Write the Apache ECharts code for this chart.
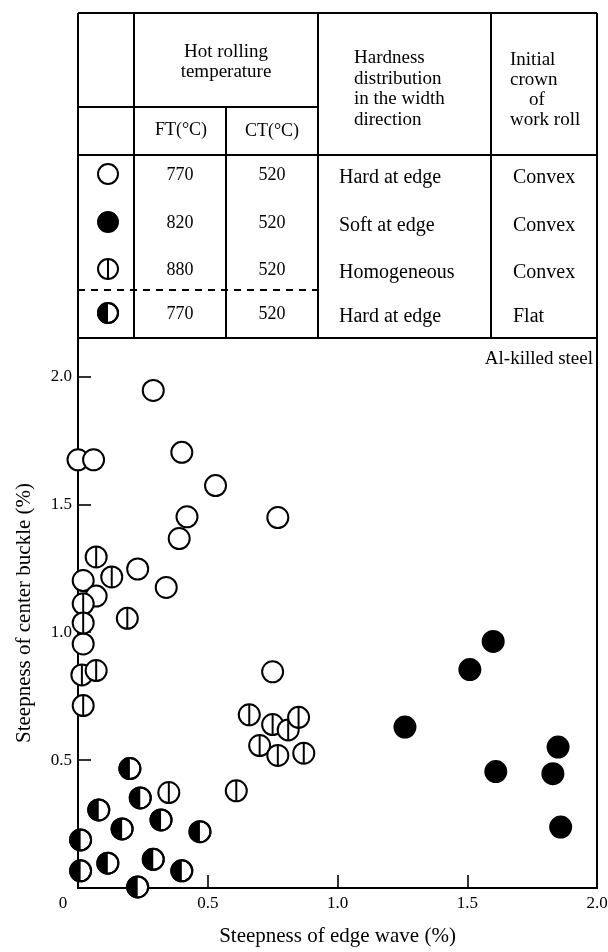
<!DOCTYPE html>
<html><head><meta charset="utf-8">
<script src="https://cdn.jsdelivr.net/npm/echarts@6/dist/echarts.min.js"></script>
<style>html,body{margin:0;padding:0;background:#fff}#c{width:608px;height:952px}</style>
</head><body><div id="c"></div>
<script>
// ---- data (steepness of edge wave %, steepness of center buckle %) ----
// FT 770 / CT 520, hard at edge, convex roll (open circle)
const hardEdgeConvex = [
  [0.29, 1.945], [0.00, 1.674], [0.06, 1.674], [0.40, 1.703], [0.53, 1.573],
  [0.42, 1.451], [0.77, 1.448], [0.39, 1.366], [0.02, 1.202], [0.23, 1.247],
  [0.34, 1.175], [0.07, 1.141], [0.02, 0.954], [0.75, 0.845]
];
// FT 820 / CT 520, soft at edge, convex roll (filled circle)
const softEdgeConvex = [
  [1.60, 0.964], [1.51, 0.854], [1.26, 0.629], [1.85, 0.551],
  [1.61, 0.455], [1.83, 0.447], [1.86, 0.238]
];
// FT 880 / CT 520, homogeneous, convex roll (circle with vertical bar)
const homogeneousConvex = [
  [0.07, 1.294], [0.13, 1.216], [0.02, 1.111], [0.02, 1.036], [0.19, 1.054],
  [0.015, 0.833], [0.07, 0.850], [0.02, 0.713], [0.66, 0.677], [0.75, 0.639],
  [0.81, 0.618], [0.85, 0.667], [0.70, 0.557], [0.77, 0.518], [0.87, 0.527],
  [0.61, 0.380], [0.35, 0.373]
];
// FT 770 / CT 520, hard at edge, flat roll (left half filled)
const hardEdgeFlat = [
  [0.20, 0.467], [0.24, 0.352], [0.08, 0.305], [0.17, 0.231], [0.32, 0.266],
  [0.47, 0.220], [0.01, 0.188], [0.01, 0.067], [0.115, 0.097], [0.29, 0.112],
  [0.40, 0.067], [0.23, 0.004]
];
const xTickValues = [0.5, 1.0, 1.5];
const xTickLabels = [0, 0.5, 1.0, 1.5, 2.0];
const yTickValues = [0.5, 1.0, 1.5, 2.0];
const yTickLabels = [0.5, 1.0, 1.5, 2.0];

// table contents
const ftValues = ['770', '820', '880', '770'];
const ctValues = ['520', '520', '520', '520'];
const hardnessValues = ['Hard at edge', 'Soft at edge', 'Homogeneous', 'Hard at edge'];
const crownValues = ['Convex', 'Convex', 'Convex', 'Flat'];
const markerKinds = ['open', 'filled', 'bar', 'half'];

// ---- layout ----
const FONT = '"Liberation Serif", "Times New Roman", serif';
const L = 78, R = 597, T = 338, B = 888;
const TT = 13;                     // table top
const C1 = 134, C2 = 226, C3 = 318, C4 = 491;
const SUB = 107, HB = 155, DASH = 290;
const rowY = [175, 223, 270, 314];
const MR = 10.5, LW = 2;

function markerShapes(kind, cx, cy, r) {
  const out = [];
  if (kind === 'filled') {
    out.push({type: 'circle', shape: {cx, cy, r}, style: {fill: '#000', stroke: '#000', lineWidth: LW}});
  } else {
    out.push({type: 'circle', shape: {cx, cy, r}, style: {fill: '#fff', stroke: '#000', lineWidth: LW}});
    if (kind === 'bar') {
      out.push({type: 'line', shape: {x1: cx, y1: cy - r, x2: cx, y2: cy + r}, style: {stroke: '#000', lineWidth: LW}});
    } else if (kind === 'half') {
      out.push({type: 'sector', shape: {cx, cy, r, r0: 0, startAngle: Math.PI / 2, endAngle: Math.PI * 1.5, clockwise: true}, style: {fill: '#000'}});
      out.push({type: 'circle', shape: {cx, cy, r}, style: {fill: 'none', stroke: '#000', lineWidth: LW}});
    }
  }
  return out;
}

function makeRender(kind) {
  return function (params, api) {
    const p = api.coord([api.value(0), api.value(1)]);
    return {type: 'group', children: markerShapes(kind, p[0], p[1], MR)};
  };
}

function line(x1, y1, x2, y2, dash) {
  return {type: 'line', z: 10, shape: {x1, y1, x2, y2},
    style: {stroke: '#000', lineWidth: LW, lineDash: dash ? [7, 6] : null}};
}
function txt(text, x, y, align, size, lh) {
  return {type: 'text', z: 10, x: 0, y: 0,
    style: {text, x, y, font: (size || 19) + 'px ' + FONT, fill: '#000',
      textAlign: align || 'center', align: align || 'center',
      textVerticalAlign: 'middle', verticalAlign: 'middle', lineHeight: lh || 20}};
}

const g = [];
// table frame
g.push(line(L, TT, R, TT));
g.push(line(L, TT, L, T));
g.push(line(R, TT, R, T));
g.push(line(C1, TT, C1, T));
g.push(line(C3, TT, C3, T));
g.push(line(C4, TT, C4, T));
g.push(line(C2, SUB, C2, T));
g.push(line(L, SUB, C3, SUB));
g.push(line(L, HB, R, HB));
g.push(line(L, DASH, C3, DASH, true));
// headers
g.push(txt('Hot rolling\ntemperature', 226, 62, 'center', 19, 20));
g.push(txt('FT(°C)', 181, 130, 'center', 18));
g.push(txt('CT(°C)', 272, 131, 'center', 18));
g.push(txt('Hardness\ndistribution\nin the width\ndirection', 354, 89, 'left', 19, 20.5));
g.push(txt('Initial', 510, 60, 'left', 19));
g.push(txt('crown', 510, 80, 'left', 19));
g.push(txt('of', 529, 100, 'left', 19));
g.push(txt('work roll', 510, 120, 'left', 19));
// rows
for (let i = 0; i < 4; i++) {
  markerShapes(markerKinds[i], 108, rowY[i] - 1, 10).forEach(s => { s.z = 10; g.push(s); });
  g.push(txt(ftValues[i], 180, rowY[i], 'center', 18));
  g.push(txt(ctValues[i], 272, rowY[i], 'center', 18));
  g.push(txt(hardnessValues[i], 339, rowY[i] + 3, 'left', 20));
  g.push(txt(crownValues[i], 513, rowY[i] + 3, 'left', 20));
}
g.push(txt('Al-killed steel', R - 4, 359, 'right', 19));

const chart = echarts.init(document.getElementById('c'), null, {renderer: 'canvas'});
chart.setOption({
  animation: false,
  backgroundColor: '#fff',
  grid: {left: L, top: T, width: R - L, height: B - T, show: true, outerBoundsMode: 'none',
    containLabel: false, borderColor: '#000', borderWidth: LW, backgroundColor: 'transparent'},
  xAxis: {
    type: 'value', min: 0, max: 2.0,
    name: 'Steepness of edge wave (%)', nameLocation: 'middle', nameGap: 38,
    nameTextStyle: {fontFamily: FONT, fontSize: 21, color: '#000'},
    axisLine: {show: true, onZero: false, lineStyle: {color: '#000', width: LW}},
    axisTick: {show: true, inside: true, length: 13, customValues: xTickValues, lineStyle: {color: '#000', width: 1.6}},
    axisLabel: {customValues: xTickLabels, margin: 7, color: '#000', fontFamily: FONT, fontSize: 17,
      formatter: v => v === 0 ? '{z|0}' : v.toFixed(1),
      rich: {z: {fontFamily: FONT, fontSize: 17, color: '#000', padding: [0, 30, 0, 0]}}},
    splitLine: {show: false}
  },
  yAxis: {
    type: 'value', min: 0, max: 2.15,
    name: 'Steepness of center buckle (%)', nameLocation: 'middle', nameGap: 43,
    nameTextStyle: {fontFamily: FONT, fontSize: 21, color: '#000'},
    axisLine: {show: true, onZero: false, lineStyle: {color: '#000', width: LW}},
    axisTick: {show: true, inside: true, length: 13, customValues: yTickValues, lineStyle: {color: '#000', width: 1.6}},
    axisLabel: {customValues: yTickLabels, margin: 6, color: '#000', fontFamily: FONT, fontSize: 17,
      formatter: v => v.toFixed(1)},
    splitLine: {show: false}
  },
  graphic: {elements: g},
  series: [
    {type: 'custom', name: 'FT770 hard edge convex', data: hardEdgeConvex, renderItem: makeRender('open'), clip: false, z: 3},
    {type: 'custom', name: 'FT820 soft edge convex', data: softEdgeConvex, renderItem: makeRender('filled'), clip: false, z: 3},
    {type: 'custom', name: 'FT880 homogeneous convex', data: homogeneousConvex, renderItem: makeRender('bar'), clip: false, z: 3},
    {type: 'custom', name: 'FT770 hard edge flat', data: hardEdgeFlat, renderItem: makeRender('half'), clip: false, z: 3}
  ]
});
</script></body></html>
